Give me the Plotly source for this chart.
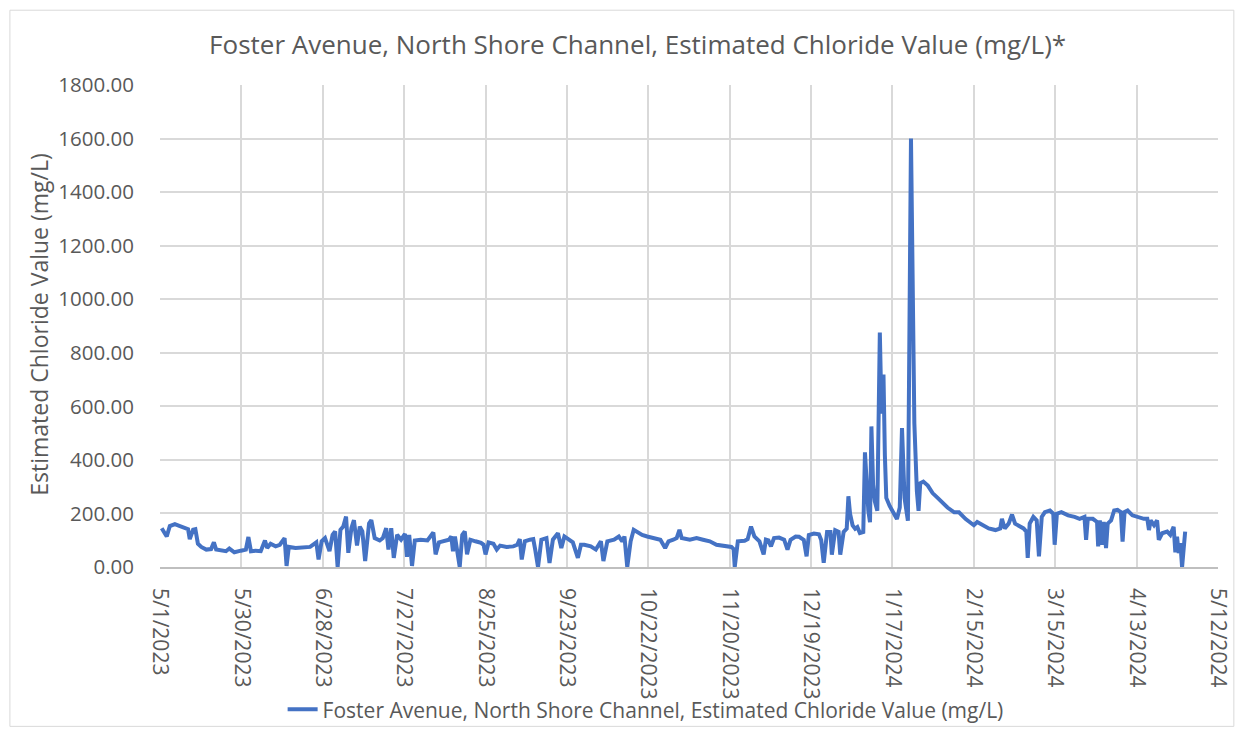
import pandas as pd
import plotly.graph_objects as go

START_DATE = "2023-05-01"

# days elapsed since START_DATE for each reading
day_offset = [
    0.6, 2.4, 3.5, 5.3, 7.1, 8.8, 10.0, 10.6, 11.8, 12.6, 13.5, 14.7, 16.5, 18.2, 19.2, 20.0,
    21.8, 23.5, 24.7, 26.5, 28.8, 30.6, 31.5, 32.4, 34.1, 35.9, 37.4, 38.2, 39.4, 41.2, 42.7,
    44.4, 45.1, 45.9, 48.3, 50.6, 53.5, 55.7, 56.5, 57.6, 58.8, 60.4, 61.5, 62.4, 63.3, 64.3,
    65.3, 66.3, 67.1, 68.2, 69.1, 70.2, 71.2, 72.1, 73.1, 74.5, 75.3,
    76.5, 78.3, 79.4, 80.6, 81.4, 82.4, 83.3, 84.5, 85.9, 87.3, 88.0, 88.8, 89.8, 90.8, 92.9,
    95.3, 97.4, 98.2, 99.4, 101.4, 103.0, 103.8, 104.4, 105.1, 105.9, 106.8, 107.7, 108.6,
    109.4, 110.6, 112.4, 114.4, 115.3, 116.0, 117.1, 118.8, 120.0, 121.2, 123.5, 125.9, 127.3,
    128.2, 128.9, 130.0, 131.8, 133.0, 133.7, 134.7, 135.9, 137.7, 138.8, 140.0, 141.8, 143.0,
    144.1, 145.9, 147.1, 148.9, 150.0,
    151.2, 153.5, 155.3, 157.1, 158.0, 159.4, 161.8, 163.5, 164.7, 165.5, 166.5, 167.7, 168.8,
    170.2, 171.8, 173.6, 175.9, 178.3, 180.0, 181.2, 182.9, 184.1, 185.1, 185.9, 188.8, 191.2,
    193.5, 195.9, 198.3, 200.6, 203.6, 204.4, 204.8, 205.9, 208.3, 209.4, 210.6, 211.8, 213.6,
    215.1, 215.9, 216.8, 217.7, 218.8, 220.6, 222.4, 223.6, 224.7, 226.5,
    227.7, 229.4, 230.4, 231.2, 233.0, 234.8, 235.6, 236.5, 237.7, 238.9, 239.4, 240.6, 241.8,
    242.4, 243.6, 244.7, 245.3, 245.9, 246.8, 247.7, 248.5, 249.4, 250.6, 251.2, 251.8, 252.4,
    253.0, 253.5, 254.1, 254.7, 255.6, 256.5, 257.1, 257.8, 258.3, 258.8, 260.0, 261.2, 262.6,
    263.6, 264.4, 265.3, 266.5, 267.6, 268.8, 269.7, 270.3, 270.9, 272.0, 273.6, 275.3, 277.1,
    278.9, 280.6, 283.0, 284.7, 287.1, 288.8,
    290.0, 291.2, 293.0, 295.3, 297.7, 299.4, 300.0, 301.0, 302.4, 303.6, 304.7, 305.9, 307.7,
    308.7, 309.2, 309.9, 311.2, 312.4, 313.2, 314.2, 315.3, 317.1, 318.3, 318.8, 319.6, 321.2,
    323.6, 325.9, 327.7, 329.4, 330.0, 330.6, 332.4, 333.9, 334.3, 334.9, 335.7, 336.3, 337.1,
    337.7, 338.9, 340.0, 341.2, 342.4, 343.0, 343.7, 344.8, 346.5, 348.3, 350.6, 351.8, 352.4,
    353.0, 354.2, 355.3, 355.9, 357.1, 358.9, 360.0, 361.2, 361.8, 362.4, 363.0, 363.6, 364.2,
    364.8, 365.3,
]

chloride = [
    145, 114, 153, 160, 153, 145, 141, 104, 139, 141, 87, 75, 65, 67, 92, 65,
    63, 59, 69, 55, 61, 65, 112, 59, 61, 59, 99, 71, 87, 77, 83,
    108, 4, 75, 71, 74, 75, 92, 28, 96, 108, 59, 120, 133, 0, 139,
    151, 188, 53, 145, 175, 80, 151, 133, 22, 163, 175,
    108, 99, 108, 145, 65, 145, 34, 120, 102, 124, 38, 120, 4, 99, 102,
    99, 129, 47, 92, 96, 102, 114, 59, 114, 65, 0, 120, 133,
    47, 102, 96, 90, 83, 47, 92, 87, 65, 80, 75, 77, 83,
    104, 28, 96, 102, 104, 65, 0, 102, 108, 15, 102, 126, 71,
    114, 102, 92, 34, 83,
    83, 77, 65, 96, 22, 96, 102, 114, 96, 114, 0, 96, 139,
    129, 120, 114, 108, 102, 71, 96, 102, 108, 139, 108, 102, 108,
    102, 96, 83, 80, 75, 67, 0, 96, 98, 104, 151, 114, 96,
    47, 102, 99, 77, 108, 110, 102, 65, 102, 114,
    113, 101, 40, 119, 125, 122, 101, 16, 131, 131, 46, 137, 131,
    46, 131, 143, 264, 198, 155, 143, 149, 127, 131, 428, 319, 210,
    167, 525, 307, 246, 210, 876, 573, 719, 416, 258, 228, 204, 179,
    222, 519, 258, 173, 1600, 537, 282, 210, 313, 319, 304, 276, 258,
    240, 222, 204, 204, 179, 165,
    156, 168, 156, 144, 138, 144, 180, 144, 162, 196, 162, 156, 144,
    132, 34, 162, 187, 174, 40, 187, 205, 211, 199, 83, 199, 205,
    193, 187, 180, 187, 101, 180, 180, 168, 77, 174, 83, 168, 71,
    162, 174, 211, 213, 205, 95, 205, 211, 193, 187, 180, 180, 138,
    174, 156, 174, 101, 126, 132, 120, 150, 55, 113, 52, 89, 0,
    89, 132,
]

tick_dates = [
    "2023-05-01", "2023-05-30", "2023-06-28", "2023-07-27", "2023-08-25", "2023-09-23",
    "2023-10-22", "2023-11-20", "2023-12-19", "2024-01-17", "2024-02-15", "2024-03-15",
    "2024-04-13", "2024-05-12",
]
tick_labels = [
    "5/1/2023", "5/30/2023", "6/28/2023", "7/27/2023", "8/25/2023", "9/23/2023",
    "10/22/2023", "11/20/2023", "12/19/2023", "1/17/2024", "2/15/2024", "3/15/2024",
    "4/13/2024", "5/12/2024",
]

series_name = "Foster Avenue, North Shore Channel, Estimated Chloride Value (mg/L)"
title_text = "Foster Avenue, North Shore Channel, Estimated Chloride Value (mg/L)*"
y_title = "Estimated Chloride Value (mg/L)"

dates = pd.Timestamp(START_DATE) + pd.to_timedelta(day_offset, unit="D")

FONT = "Open Sans"
TXT = "#595959"
GRID = "#D9D9D9"

W, H = 1237, 734
L, R, T, B = 152, 17, 77, 164
PW, PH = W - L - R, H - T - B

fig = go.Figure()
fig.add_trace(go.Scatter(
    x=dates, y=chloride, mode="lines", name=series_name,
    line=dict(color="#4472C4", width=4),
))

fig.update_layout(
    width=W, height=H,
    margin=dict(l=L, r=R, t=T, b=B),
    paper_bgcolor="white", plot_bgcolor="white",
    font=dict(family=FONT, color=TXT),
    title=dict(text=title_text, x=0.509, xref="container", xanchor="center",
               y=0.95, yref="container", yanchor="middle",
               font=dict(size=26, color=TXT, family=FONT)),
    showlegend=True,
    legend=dict(orientation="h", x=0.459, xanchor="center", y=-0.296, yanchor="middle",
                font=dict(size=21, color=TXT, family=FONT), bgcolor="rgba(0,0,0,0)"),
    shapes=[dict(type="rect", xref="paper", yref="paper",
                 x0=-(L - 0.5) / PW, x1=(W - L - 1) / PW,
                 y0=-(B - 1) / PH, y1=(PH + T - 0.5) / PH,
                 line=dict(color="#D9D9D9", width=1), fillcolor="rgba(0,0,0,0)", layer="below")],
    annotations=[dict(text=y_title, textangle=-90, xref="paper", yref="paper",
                      x=(29 - L) / PW, y=0.503, xanchor="center", yanchor="middle",
                      showarrow=False, font=dict(size=23, color=TXT, family=FONT))],
)

fig.update_xaxes(
    type="date", range=[tick_dates[0], tick_dates[-1]],
    tickmode="array", tickvals=tick_dates, ticktext=tick_labels, tickangle=90,
    tickfont=dict(size=21, color=TXT, family=FONT),
    showgrid=True, gridcolor=GRID, gridwidth=1.5,
    showline=True, linecolor="#BFBFBF", linewidth=1.5,
    ticks="", ticklabelstandoff=15, zeroline=False,
)
fig.update_yaxes(
    range=[0, 1800], dtick=200, tick0=0, tickformat=".2f",
    tickfont=dict(size=20.5, color=TXT, family=FONT),
    showgrid=True, gridcolor=GRID, gridwidth=1.5,
    showline=False, zeroline=False, ticks="", ticklabelstandoff=25,
)

fig.write_html("out.html")
